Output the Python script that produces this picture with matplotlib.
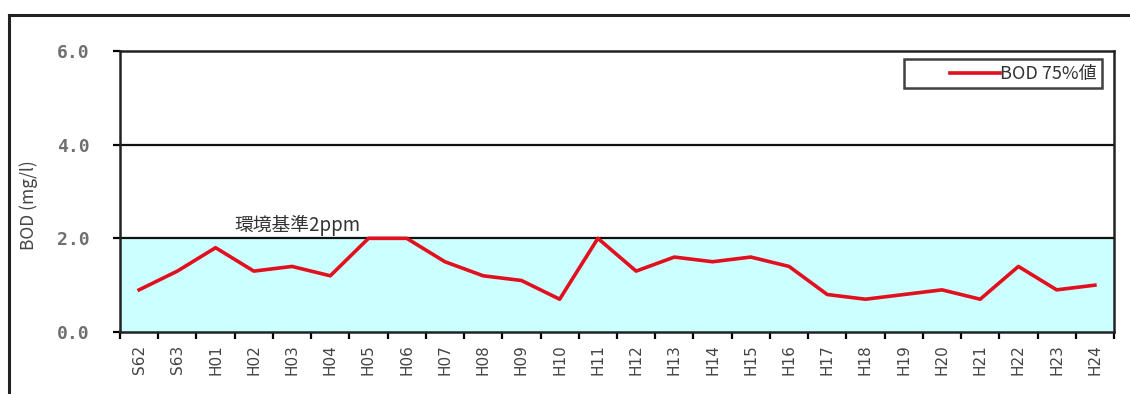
import matplotlib.pyplot as plt
from matplotlib.lines import Line2D
from matplotlib.ticker import FixedLocator
from matplotlib.legend_handler import HandlerLine2D

plt.rcParams['font.family'] = ['Noto Sans CJK JP', 'DejaVu Sans']

years = ["S62", "S63", "H01", "H02", "H03", "H04", "H05", "H06", "H07", "H08",
         "H09", "H10", "H11", "H12", "H13", "H14", "H15", "H16", "H17", "H18",
         "H19", "H20", "H21", "H22", "H23", "H24"]
bod75 = [0.9, 1.3, 1.8, 1.3, 1.4, 1.2, 2.0, 2.0, 1.5, 1.2,
         1.1, 0.7, 2.0, 1.3, 1.6, 1.5, 1.6, 1.4, 0.8, 0.7,
         0.8, 0.9, 0.7, 1.4, 0.9, 1.0]
standard = 2.0
yticks = [0.0, 2.0, 4.0, 6.0]


class RightLineHandler(HandlerLine2D):
    # legend sample drawn only over the right part of the handle box
    def get_xdata(self, legend, xdescent, ydescent, width, height, fontsize):
        x0 = -xdescent + 0.45 * width
        x1 = -xdescent + width
        return [x0, x1], [x0, x1]


fig = plt.figure(figsize=(11.3, 3.94), dpi=100)
ax = fig.add_axes([120 / 1130, 1 - 332 / 394, 994 / 1130, 281 / 394])

# outer frame of the figure (open at right and bottom)
fig.add_artist(Line2D([9 / 1130, 1.0], [1 - 15 / 394, 1 - 15 / 394],
                      transform=fig.transFigure, color="#222222", lw=2.2))
fig.add_artist(Line2D([9 / 1130, 9 / 1130], [0.0, 1 - 15 / 394],
                      transform=fig.transFigure, color="#222222", lw=2.2))

x = list(range(len(years)))
ax.axhspan(0, standard, color="#ccffff", zorder=0)
for yv in yticks[1:3]:
    ax.axhline(yv, color="#111111", lw=1.6, zorder=1)

ax.plot(x, bod75, color="#e0101e", lw=2.6, label="BOD 75%値", zorder=3)

ax.text(4.15, 2.27, "環境基準2ppm", fontsize=13.5, color="#333333",
        ha="center", va="center")

ax.set_xlim(-0.5, len(years) - 0.5)
ax.set_ylim(0, 6)
ax.set_yticks(yticks)
ax.set_yticklabels([f"{v:.1f}" for v in yticks], family="DejaVu Sans Mono",
                   fontsize=13, color="#707070", fontweight="bold")
ax.tick_params(axis="y", direction="out", length=5, width=1.6, pad=17)

ax.set_xticks(x)
ax.set_xticklabels(years, rotation=90, fontsize=11, color="#444444",
                   family="DejaVu Sans")
ax.xaxis.set_minor_locator(FixedLocator([i - 0.5 for i in range(len(years) + 1)]))
ax.tick_params(axis="x", which="major", length=0, pad=9)
ax.tick_params(axis="x", which="minor", direction="out", length=5, width=1.6)

for s in ax.spines.values():
    s.set_color("#222222")
    s.set_linewidth(1.8)

ax.set_ylabel("BOD (mg/l)", fontsize=12.5, color="#444444")
ax.yaxis.set_label_coords(-0.082, 0.45)

leg = ax.legend(loc="upper right", bbox_to_anchor=(0.988, 0.97), fontsize=13,
                frameon=True, fancybox=False, handlelength=5.0,
                borderpad=0.3, handletextpad=0.0, borderaxespad=0,
                handler_map={Line2D: RightLineHandler()})
leg.get_frame().set_edgecolor("#111111")
leg.get_frame().set_linewidth(1.8)
for t in leg.get_texts():
    t.set_color("#333333")

fig.savefig("out.png", dpi=100)
